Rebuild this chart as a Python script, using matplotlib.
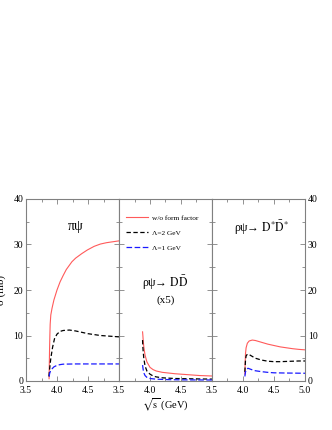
import numpy as np
import matplotlib
matplotlib.use('Agg')
import matplotlib.pyplot as plt
from matplotlib.ticker import MultipleLocator, FixedLocator, FixedFormatter

plt.rcParams['font.family'] = ['Liberation Serif', 'DejaVu Serif']
plt.rcParams['mathtext.fontset'] = 'stix'

# pi psi panel
pi_red_x = [3.872, 3.875, 3.88, 3.885, 3.89, 3.90, 3.92, 3.95, 4.0, 4.05, 4.1, 4.15, 4.24, 4.3, 4.4, 4.49, 4.6, 4.7, 4.8, 4.9, 5.0]
pi_red_y = [0.5, 3.0, 7.0, 10.0, 12.5, 14.5, 16.0, 17.8, 20.0, 21.8, 23.2, 24.5, 26.2, 27.0, 28.0, 28.8, 29.6, 30.1, 30.4, 30.6, 30.8]
pi_blk_x = [3.87, 3.88, 3.90, 3.93, 3.96, 4.0, 4.05, 4.1, 4.2, 4.3, 4.4, 4.5, 4.6, 4.7, 4.8, 4.9, 5.0]
pi_blk_y = [1.0, 2.5, 5.0, 7.5, 9.3, 10.3, 10.9, 11.1, 11.2, 11.0, 10.7, 10.4, 10.2, 10.0, 9.9, 9.8, 9.7]
pi_blu_x = [3.875, 3.88, 3.90, 3.95, 4.0, 4.05, 4.1, 4.3, 4.5, 4.7, 5.0]
pi_blu_y = [1.0, 1.6, 2.4, 3.1, 3.45, 3.6, 3.7, 3.75, 3.75, 3.75, 3.75]

# rho psi -> D Dbar (x5)
dd_red_x = [3.88, 3.885, 3.89, 3.90, 3.92, 3.95, 4.0, 4.05, 4.1, 4.2, 4.3, 4.4, 4.5, 4.6, 4.7, 4.8, 4.9, 5.0]
dd_red_y = [10.8, 10.0, 9.0, 7.5, 5.7, 4.2, 3.0, 2.5, 2.2, 1.9, 1.75, 1.6, 1.5, 1.4, 1.3, 1.2, 1.15, 1.1]
dd_blk_x = [3.88, 3.885, 3.89, 3.90, 3.92, 3.95, 4.0, 4.05, 4.1, 4.2, 4.4, 4.6, 4.8, 5.0]
dd_blk_y = [9.0, 7.5, 6.5, 5.0, 3.3, 2.2, 1.5, 1.1, 0.9, 0.7, 0.55, 0.5, 0.45, 0.42]
dd_blu_x = [3.88, 3.885, 3.89, 3.90, 3.92, 3.95, 4.0, 4.1, 4.3, 4.5, 5.0]
dd_blu_y = [3.5, 3.0, 2.5, 1.8, 1.2, 0.8, 0.55, 0.4, 0.3, 0.25, 0.22]

# rho psi -> D* Dbar*
ds_red_x = [4.03, 4.035, 4.04, 4.05, 4.07, 4.1, 4.15, 4.2, 4.3, 4.4, 4.5, 4.6, 4.7, 4.8, 4.9, 5.0]
ds_red_y = [1.5, 4.0, 6.0, 7.3, 8.3, 8.8, 9.0, 8.9, 8.5, 8.1, 7.8, 7.5, 7.3, 7.1, 6.95, 6.85]
ds_blk_x = [4.03, 4.04, 4.05, 4.07, 4.1, 4.15, 4.2, 4.3, 4.4, 4.5, 4.6, 4.7, 4.8, 4.9, 5.0]
ds_blk_y = [2.0, 4.5, 5.5, 5.9, 5.8, 5.4, 5.0, 4.6, 4.35, 4.25, 4.25, 4.3, 4.35, 4.4, 4.4]
ds_blu_x = [4.03, 4.04, 4.06, 4.08, 4.1, 4.15, 4.2, 4.3, 4.4, 4.5, 4.7, 5.0]
ds_blu_y = [1.0, 2.0, 2.6, 2.8, 2.7, 2.45, 2.25, 2.05, 1.9, 1.8, 1.75, 1.7]

red = '#ff5a5a'
blue = '#1a1aff'
spine_col = '#808080'

fig = plt.figure(figsize=(3.32, 4.30), dpi=100)
w = 93 / 332
lefts = [26 / 332, 119 / 332, 212 / 332]
bottom = 1 - 381 / 430
height = 182 / 430
axes = [fig.add_axes([l, bottom, w, height]) for l in lefts]

data = [
    (pi_red_x, pi_red_y, pi_blk_x, pi_blk_y, pi_blu_x, pi_blu_y),
    (dd_red_x, dd_red_y, dd_blk_x, dd_blk_y, dd_blu_x, dd_blu_y),
    (ds_red_x, ds_red_y, ds_blk_x, ds_blk_y, ds_blu_x, ds_blu_y),
]

for i, ax in enumerate(axes):
    rx, ry, bx, by, ux, uy = data[i]
    ax.plot(rx, ry, color=red, lw=0.8, label='w/o form factor')
    ax.plot(bx, by, color='black', lw=0.9, dashes=(3.5, 2), label='Λ=2 GeV')
    ax.plot(ux, uy, color=blue, lw=0.9, dashes=(4.5, 2), label='Λ=1 GeV')
    ax.set_xlim(3.5, 5.0)
    ax.set_ylim(0, 40)
    ax.yaxis.set_major_locator(MultipleLocator(10))
    ax.yaxis.set_minor_locator(MultipleLocator(5))
    ax.xaxis.set_major_locator(FixedLocator([3.5, 4.0, 4.5, 5.0]))
    ax.xaxis.set_minor_locator(MultipleLocator(0.25))
    if i < 2:
        ax.xaxis.set_major_formatter(FixedFormatter(['3.5', '4.0', '4.5', '']))
    else:
        ax.xaxis.set_major_formatter(FixedFormatter(['3.5', '4.0', '4.5', '5.0']))
    ax.tick_params(which='both', direction='in', top=True, bottom=True,
                   left=True, right=True, color=spine_col, labelsize=7, pad=2)
    ax.tick_params(axis='x', which='major', pad=3.5)
    ax.tick_params(which='major', length=3.5, width=0.6)
    ax.tick_params(which='minor', length=2, width=0.6)
    if i == 0:
        ax.tick_params(labelleft=True, labelright=False)
    elif i == 1:
        ax.tick_params(labelleft=False, labelright=False)
    else:
        ax.tick_params(labelleft=False, labelright=True)
    for s in ax.spines.values():
        s.set_color(spine_col)
        s.set_linewidth(0.8)

axes[0].text(4.3, 34, 'πψ', fontsize=10, ha='center', va='center')
axes[1].text(4.25, 21.5, r'ρψ→ $\mathrm{D}\bar{\mathrm{D}}$', fontsize=8.5, ha='center', va='center')
axes[1].text(4.25, 17.8, '(x5)', fontsize=8, ha='center', va='center')
axes[2].text(4.3, 33.6, r'ρψ→ $\mathrm{D}^{*}\bar{\mathrm{D}}^{*}$', fontsize=8.5, ha='center', va='center')

axes[1].legend(loc='upper left', bbox_to_anchor=(0.0, 0.95), frameon=False,
               fontsize=5.3, handlelength=3.0, handletextpad=0.6, labelspacing=1.2)

axes[1].set_xlabel(r'$\sqrt{\mathrm{s}}$ (GeV)', fontsize=7.5, labelpad=1)
fig.text(0.004, 1 - 290 / 430, 'σ (mb)', rotation=90, fontsize=8, ha='center', va='center')

fig.savefig('out.png', dpi=100)
